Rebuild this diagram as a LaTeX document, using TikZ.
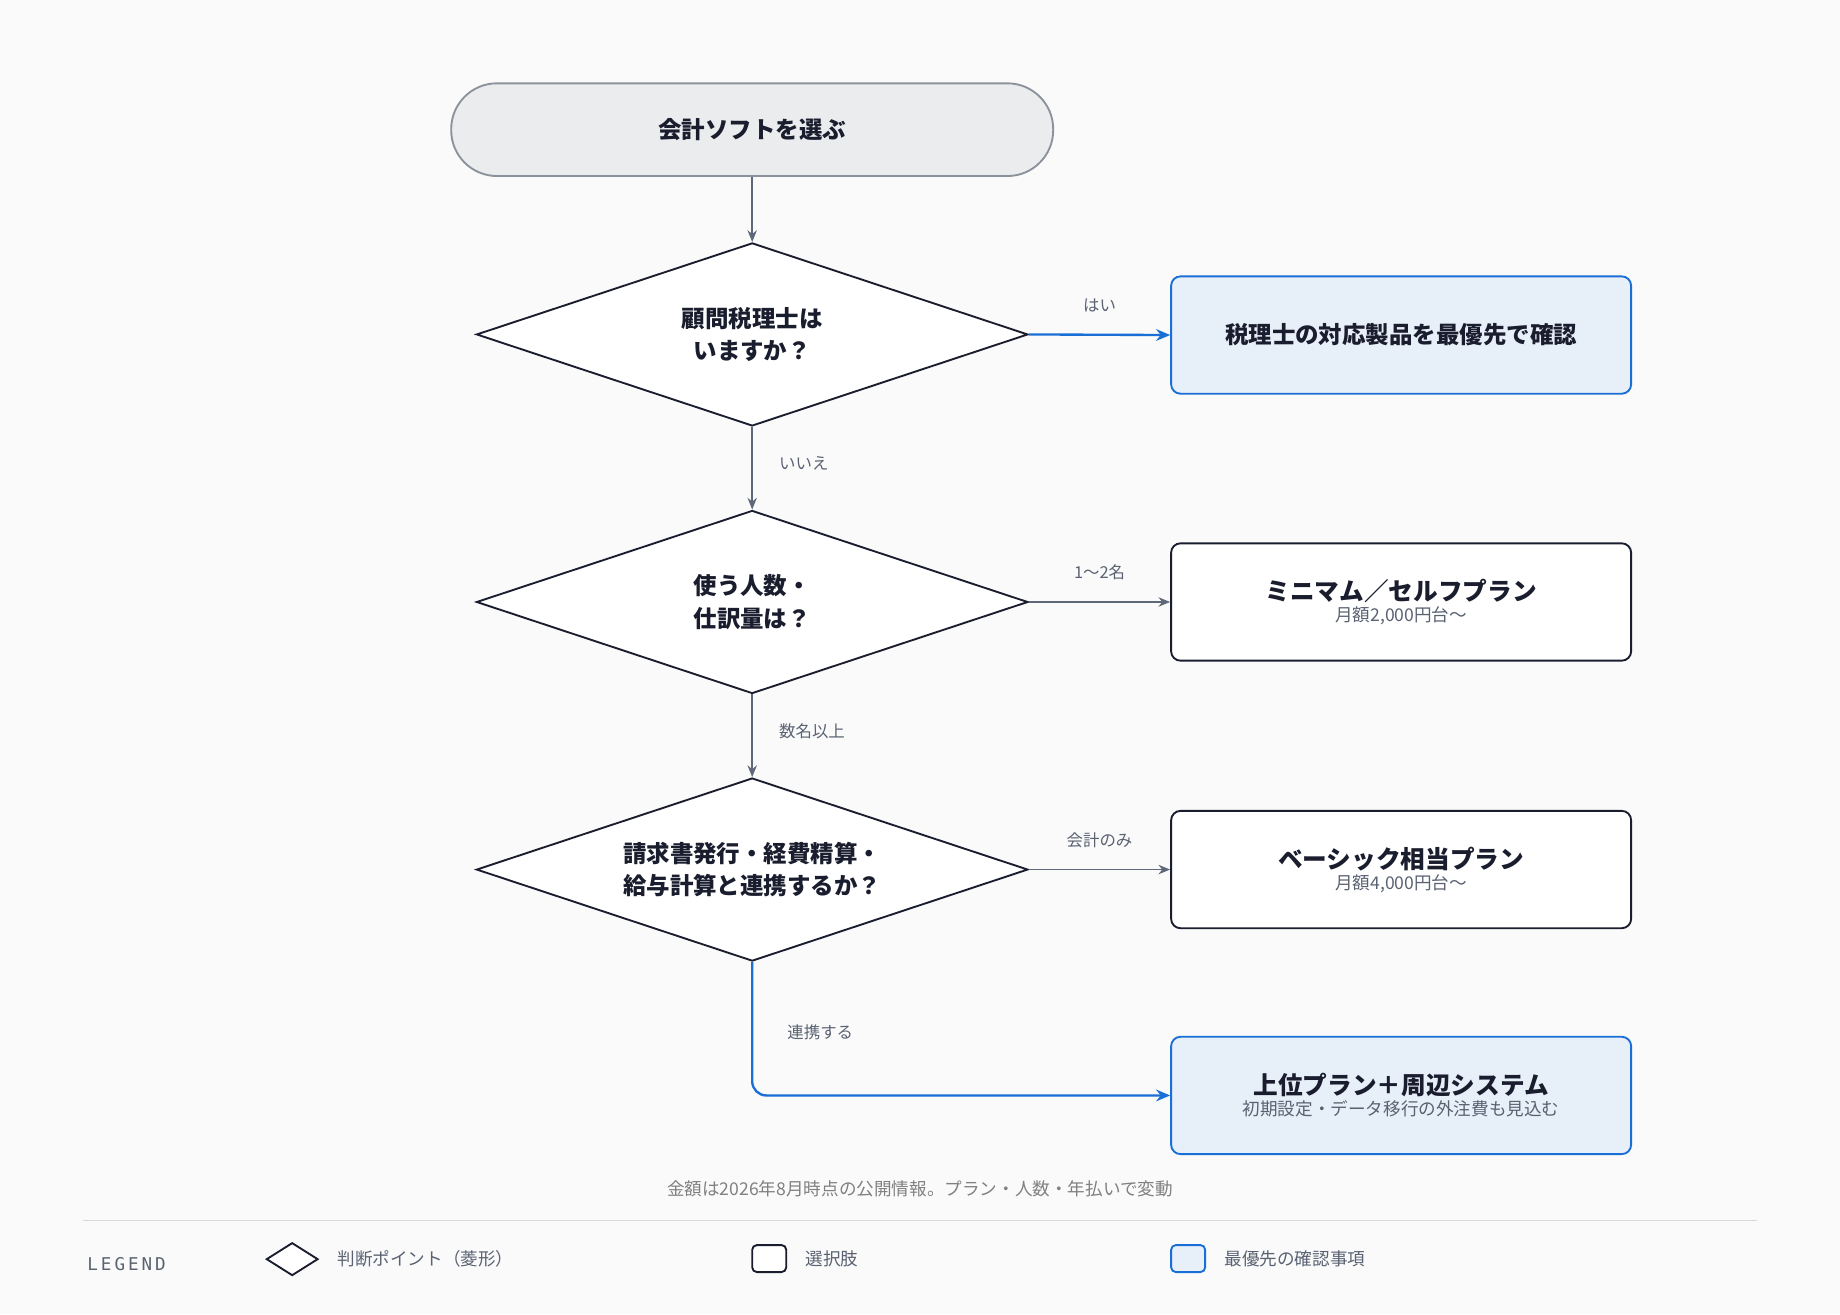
\documentclass[tikz,border=0pt]{standalone}
\usepackage{fontspec}
\setmainfont{Noto Sans CJK JP}
\newfontfamily\monof{DejaVu Sans Mono}
\usetikzlibrary{shapes.geometric,arrows.meta}
\definecolor{bg}{HTML}{FAFAFA}
\definecolor{ink}{HTML}{1A1D2E}
\definecolor{edge}{HTML}{5F6878}
\definecolor{blu}{HTML}{1A6FD6}
\definecolor{blufill}{HTML}{E7EFF8}
\definecolor{startfill}{HTML}{EBECEE}
\definecolor{startline}{HTML}{8C929C}
\definecolor{muted}{HTML}{5A6272}
\begin{document}
\begin{tikzpicture}[x=1pt,y=-1pt,
 dia/.style={diamond,draw=ink,line width=1.6pt,fill=white,minimum width=470pt,minimum height=156pt,inner sep=0pt,shape aspect=3.01,align=center,font=\fontsize{20}{28}\selectfont\bfseries,text=ink},
 box/.style={draw=ink,line width=1.6pt,fill=white,rounded corners=8pt,minimum width=392pt,minimum height=100pt,align=center,text=ink},
 pbox/.style={box,draw=blu,fill=blufill},
 ttl/.style={font=\fontsize{20}{24}\selectfont\bfseries},
 sub/.style={font=\fontsize{15}{18}\selectfont,text=muted},
 arr/.style={draw=edge,line width=1.4pt,-{Stealth[length=10pt,width=8pt]}},
 barr/.style={draw=blu,line width=2pt,-{Stealth[length=12pt,width=10pt]}},
 lab/.style={font=\fontsize{14}{16}\selectfont,text=muted}]
\fill[bg] (0,0) rectangle (1568,1120);
\useasboundingbox (0,0) rectangle (1568,1120);
\node[draw=startline,line width=1.6pt,fill=startfill,rounded corners=39pt,minimum width=513pt,minimum height=79pt,font=\fontsize{20}{24}\selectfont\bfseries,text=ink] (start) at (641,110.5) {会計ソフトを選ぶ};
\node[dia] (d1) at (641,285) {顧問税理士は\\いますか？};
\node[dia] (d2) at (641,513) {使う人数・\\仕訳量は？};
\node[dia] (d3) at (641,741) {請求書発行・経費精算・\\給与計算と連携するか？};
\node[pbox] (b1) at (1194,285.5) {\fontsize{20}{24}\selectfont\bfseries 税理士の対応製品を最優先で確認};
\node[box] (b2) at (1194,513) {{\fontsize{21}{26}\selectfont\bfseries ミニマム／セルフプラン}\\[2pt]{\fontsize{15}{18}\selectfont\color{muted}月額2,000円台〜}};
\node[box] (b3) at (1194,741) {{\fontsize{21}{26}\selectfont\bfseries ベーシック相当プラン}\\[2pt]{\fontsize{15}{18}\selectfont\color{muted}月額4,000円台〜}};
\node[pbox] (b4) at (1194,933.5) {{\fontsize{21}{26}\selectfont\bfseries 上位プラン＋周辺システム}\\[2pt]{\fontsize{15}{18}\selectfont\color{muted}初期設定・データ移行の外注費も見込む}};
\draw[arr] (start) -- (d1.north);
\draw[barr] (d1.east) -- (b1.west);
\draw[arr] (d1.south) -- (d2.north);
\draw[arr] (d2.east) -- (b2.west);
\draw[arr] (d2.south) -- (d3.north);
\draw[arr] (d3.east) -- (b3.west);
\draw[barr,rounded corners=12pt] (d3.south) |- (b4.west);
\node[lab] (l1) at (937,260) {はい};
\node[lab] (l2) at (685,395) {いいえ};
\node[lab] (l3) at (937,488) {1〜2名};
\node[lab] (l4) at (692,623) {数名以上};
\node[lab] (l5) at (937,716) {会計のみ};
\node[lab] (l6) at (699,880) {連携する};
\node[font=\fontsize{15}{18}\selectfont,text=gray] (foot) at (784,1013) {金額は2026年8月時点の公開情報。プラン・人数・年払いで変動};
\draw[draw=black!15,line width=1.2pt] (71,1040) -- (1497,1040);
\node[anchor=west,font=\monof\fontsize{15}{18}\selectfont,text=muted] (lg) at (71,1077) {L\,E\,G\,E\,N\,D};
\node[diamond,draw=ink,line width=1.6pt,fill=white,minimum width=44pt,minimum height=28pt,inner sep=0pt,shape aspect=1.6] (ld) at (249,1073) {};
\node[anchor=west,lab,font=\fontsize{15}{18}\selectfont] (ldt) at (284,1073) {判断ポイント（菱形）};
\node[draw=ink,line width=1.6pt,fill=white,rounded corners=4pt,minimum width=29pt,minimum height=23pt,inner sep=0pt] (lb) at (655.5,1072.5) {};
\node[anchor=west,lab,font=\fontsize{15}{18}\selectfont] (lbt) at (683,1073) {選択肢};
\node[draw=blu,line width=1.6pt,fill=blufill,rounded corners=4pt,minimum width=29pt,minimum height=23pt,inner sep=0pt] (lp) at (1012.5,1072.5) {};
\node[anchor=west,lab,font=\fontsize{15}{18}\selectfont] (lpt) at (1040,1073) {最優先の確認事項};
\end{tikzpicture}
\end{document}
